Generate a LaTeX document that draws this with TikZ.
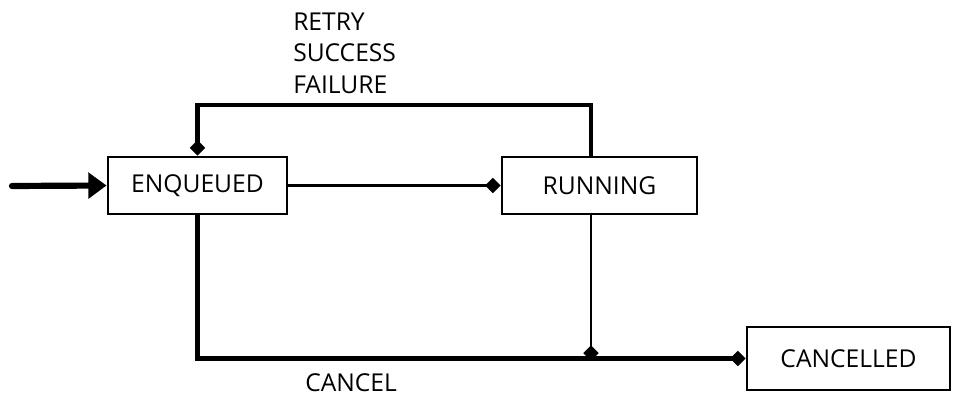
\documentclass[tikz,border=0pt]{standalone}
\usepackage{fontspec}
\setmainfont{Open Sans}
\usetikzlibrary{arrows.meta}
\begin{document}
\begin{tikzpicture}
[x=0.025cm,y=-0.025cm,
  statedecorate/.style={shape=rectangle,draw,line width=2pt,font=\fontsize{17.5}{21}\selectfont,inner sep=0pt},%
  thinline/.style={line width=1.8pt},
  thickline/.style={line width=3.4pt},
  diamondtip/.style={-{Diamond[length=11pt,width=11pt]}},
  labeldecorate/.style={anchor=west,font=\fontsize{17.5}{21}\selectfont,inner sep=0pt}]
\useasboundingbox (0,0) rectangle (965,405);
%% states
\foreach \nodename/\x/\y/\w/\h/\text in {
  enqueued/197.5/185.5/179/57/ENQUEUED, running/599.5/185.5/195/57/RUNNING,
  cancelled/848.5/358.5/203/63/CANCELLED} {
  \node (\nodename) at (\x,\y) [statedecorate,minimum width=\w*0.025cm,minimum height=\h*0.025cm] {\text};
}
%% labels
\foreach \labelname/\x/\y/\text in {retry/293/22/RETRY, success/293/53/SUCCESS,
  failure/293/85/FAILURE, cancel/305/383/CANCEL} {
  \node (\labelname) at (\x,\y) [labeldecorate] {\text};
}
\coordinate (start) at (12,186);
\coordinate (loop) at (591,105);
%% transitions
\draw[line width=4.4pt,line cap=round,-{Triangle[length=13pt,width=18pt]}] (start) -- (enqueued.west);
\draw[thinline,diamondtip] (enqueued.east) -- (running.west);
\draw[thickline,diamondtip] (loop |- running.north) -- (loop) -| (enqueued.north);
\draw[thickline,diamondtip] (enqueued.south) |- (cancelled.west);
\draw[thinline,diamondtip] (loop |- running.south) -- ([yshift=-1.7pt]loop |- cancelled.west);
\end{tikzpicture}
\end{document}
